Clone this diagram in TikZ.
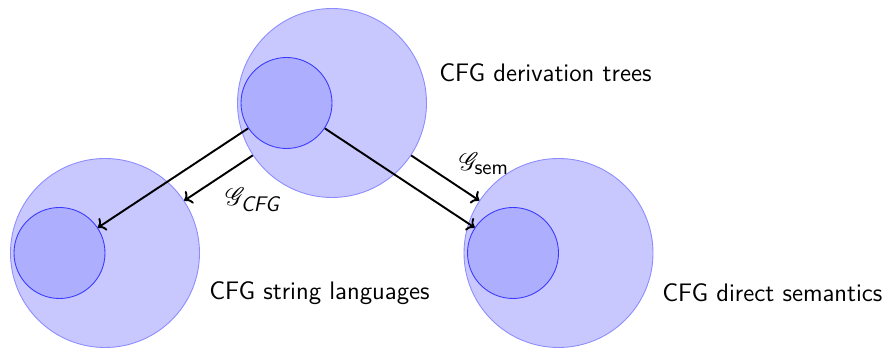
\documentclass[tikz,border=0pt]{standalone}
\usepackage{amsmath,amssymb,mathrsfs}
\usepackage{xcolor}
\usepackage{tikz}
\usetikzlibrary{arrows.meta,positioning,calc}
\definecolor{SetFill}{HTML}{C8C8FF}
\definecolor{SetLine}{HTML}{8C8CFF}
\definecolor{SubFill}{HTML}{AEAEFF}
\definecolor{SubLine}{HTML}{3A3AFF}
\tikzset{
  bigset/.style={circle,draw=SetLine,fill=SetFill,line width=0.5pt,minimum size=3.78cm,inner sep=0pt},
  subset/.style={circle,draw=SubLine,fill=SubFill,line width=0.5pt,minimum size=1.82cm,inner sep=0pt},
  maparrow/.style={->,line width=1.1pt,draw=black},
  setlabel/.style={anchor=west,font=\sffamily\Large,inner sep=0pt},
  maplabel/.style={font=\sffamily\Large}
}
\begin{document}
\begin{tikzpicture}[x=1cm,y=1cm]
\useasboundingbox (0,0) rectangle (17.66,6.96);
\node[bigset] (trees) at (6.64,4.90) {};
\node[bigset] (strings) at (2.10,1.90) {};
\node[bigset] (sems) at (11.17,1.90) {};
\node[subset] (treesin) at ($(trees)+(-0.91,0)$) {};
\node[subset] (stringsin) at ($(strings)+(-0.91,0)$) {};
\node[subset] (semsin) at ($(sems)+(-0.91,0)$) {};
\draw[maparrow] (treesin) -- (stringsin);
\draw[maparrow] (treesin) -- (semsin);
\draw[maparrow] (trees) -- (strings) node[midway,below right,yshift=-0.05cm,maplabel] {$\mathscr{G}_{\text{\large\itshape CFG}}$};
\draw[maparrow] (trees) -- (sems) node[midway,above right,xshift=0.14cm,yshift=-0.07cm,maplabel] {$\mathscr{G}_{\text{\large sem}}$};
\node[setlabel] (treestext) at (8.78,5.50) {CFG derivation trees};
\node[setlabel] (stringstext) at (4.18,1.10) {CFG string languages};
\node[setlabel] (semstext) at (13.24,1.10) {CFG direct semantics};
\end{tikzpicture}
\end{document}
